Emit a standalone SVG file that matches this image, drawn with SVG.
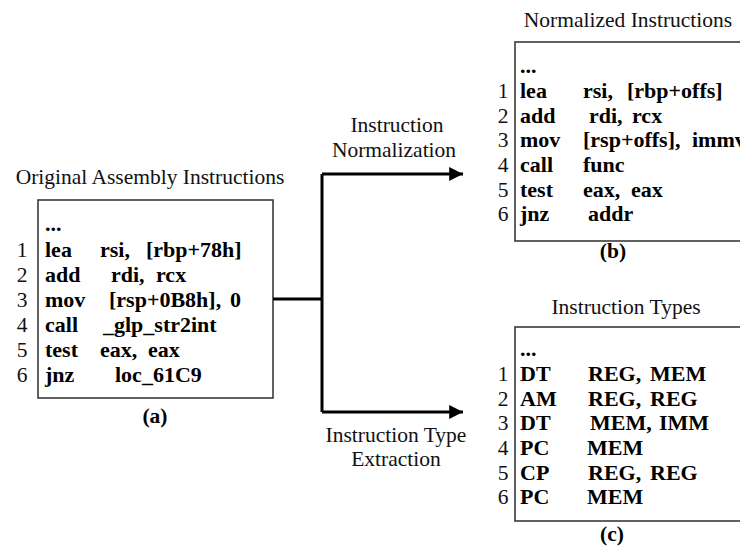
<svg xmlns="http://www.w3.org/2000/svg" width="740" height="552" viewBox="0 0 740 552">
  <style>
    .lbl { font-family: "Liberation Serif", "Times New Roman", serif; font-size: 21.5px; fill: #111; }
    .num { font-family: "Liberation Serif", "Times New Roman", serif; font-size: 21.5px; fill: #111; text-anchor: middle; }
    .code { font-family: "Liberation Serif", "Times New Roman", serif; font-size: 22px; font-weight: bold; fill: #000; }
    .cap { font-family: "Liberation Serif", "Times New Roman", serif; font-size: 21.5px; font-weight: bold; fill: #000; text-anchor: middle; }
    .box { fill: #fff; stroke: #3a3a3a; stroke-width: 1.6; }
    .wire { fill: none; stroke: #000; stroke-width: 3; }
  </style>
  <defs>
    <marker id="head" viewBox="0 0 10 10" refX="10" refY="5" markerWidth="5.8" markerHeight="4.6" markerUnits="strokeWidth" orient="auto">
      <path d="M0,0 L10,5 L0,10 Z" fill="#000"/>
    </marker>
  </defs>
  <rect width="740" height="552" fill="#fff"/>

  <!-- (a) original assembly -->
  <g id="original">
    <text class="lbl" x="150" y="184" text-anchor="middle">Original Assembly Instructions</text>
    <rect class="box" x="38" y="200" width="235" height="198"/>
    <text class="code" x="45" y="231">...</text>
    <text class="num" x="22" y="257">1</text>
    <text class="num" x="22" y="282">2</text>
    <text class="num" x="22" y="307">3</text>
    <text class="num" x="22" y="332">4</text>
    <text class="num" x="22" y="357">5</text>
    <text class="num" x="22" y="382">6</text>
    <text class="code" x="45" y="257">lea</text>
    <text class="code" x="100" y="257">rsi,<tspan x="146">[rbp+78h]</tspan></text>
    <text class="code" x="45" y="282">add</text>
    <text class="code" x="111" y="282">rdi,<tspan x="156">rcx</tspan></text>
    <text class="code" x="45" y="307">mov</text>
    <text class="code" x="109" y="307">[rsp+0B8h],<tspan x="230">0</tspan></text>
    <text class="code" x="45" y="332">call</text>
    <text class="code" x="103" y="332">_glp_str2int</text>
    <text class="code" x="45" y="357">test</text>
    <text class="code" x="100" y="357">eax,<tspan x="148">eax</tspan></text>
    <text class="code" x="45" y="382">jnz</text>
    <text class="code" x="115" y="382">loc_61C9</text>
    <text class="cap" x="155" y="423">(a)</text>
  </g>

  <!-- (b) normalized instructions -->
  <g id="normalized">
    <text class="lbl" x="628" y="27" text-anchor="middle">Normalized Instructions</text>
    <rect class="box" x="515" y="42" width="260" height="199"/>
    <text class="code" x="520" y="73">...</text>
    <text class="num" x="503" y="98">1</text>
    <text class="num" x="503" y="122.5">2</text>
    <text class="num" x="503" y="147">3</text>
    <text class="num" x="503" y="172">4</text>
    <text class="num" x="503" y="196.5">5</text>
    <text class="num" x="503" y="221">6</text>
    <text class="code" x="520" y="98">lea</text>
    <text class="code" x="583" y="98">rsi,<tspan x="627">[rbp+offs]</tspan></text>
    <text class="code" x="520" y="122.5">add</text>
    <text class="code" x="589" y="122.5">rdi,<tspan x="632">rcx</tspan></text>
    <text class="code" x="520" y="147">mov</text>
    <text class="code" x="583" y="147">[rsp+offs],<tspan x="692">immv</tspan></text>
    <text class="code" x="520" y="172">call</text>
    <text class="code" x="583" y="172">func</text>
    <text class="code" x="520" y="196.5">test</text>
    <text class="code" x="583" y="196.5">eax,<tspan x="631">eax</tspan></text>
    <text class="code" x="520" y="221">jnz</text>
    <text class="code" x="588" y="221">addr</text>
    <text class="cap" x="613" y="258">(b)</text>
  </g>

  <!-- (c) instruction types -->
  <g id="types">
    <text class="lbl" x="626" y="314" text-anchor="middle">Instruction Types</text>
    <rect class="box" x="515" y="327" width="260" height="194"/>
    <text class="code" x="520" y="356">...</text>
    <text class="num" x="503" y="381">1</text>
    <text class="num" x="503" y="405.5">2</text>
    <text class="num" x="503" y="430">3</text>
    <text class="num" x="503" y="455">4</text>
    <text class="num" x="503" y="479.5">5</text>
    <text class="num" x="503" y="504">6</text>
    <text class="code" x="520" y="381">DT</text>
    <text class="code" x="588" y="381">REG,<tspan x="650">MEM</tspan></text>
    <text class="code" x="520" y="405.5">AM</text>
    <text class="code" x="588" y="405.5">REG,<tspan x="650">REG</tspan></text>
    <text class="code" x="520" y="430">DT</text>
    <text class="code" x="590" y="430">MEM,<tspan x="659">IMM</tspan></text>
    <text class="code" x="520" y="455">PC</text>
    <text class="code" x="587" y="455">MEM</text>
    <text class="code" x="520" y="479.5">CP</text>
    <text class="code" x="588" y="479.5">REG,<tspan x="650">REG</tspan></text>
    <text class="code" x="520" y="504">PC</text>
    <text class="code" x="587" y="504">MEM</text>
    <text class="cap" x="612" y="541">(c)</text>
  </g>

  <!-- branching connector with labels -->
  <g id="connectors">
    <path class="wire" d="M273,299 H322"/>
    <path class="wire" d="M322,174 V412"/>
    <path class="wire" d="M322,174 H463" marker-end="url(#head)"/>
    <path class="wire" d="M322,412 H463" marker-end="url(#head)"/>
    <text class="lbl" x="397" y="132" text-anchor="middle">Instruction</text>
    <text class="lbl" x="394" y="157" text-anchor="middle">Normalization</text>
    <text class="lbl" x="396" y="442" text-anchor="middle">Instruction Type</text>
    <text class="lbl" x="396" y="466" text-anchor="middle">Extraction</text>
  </g>
</svg>
